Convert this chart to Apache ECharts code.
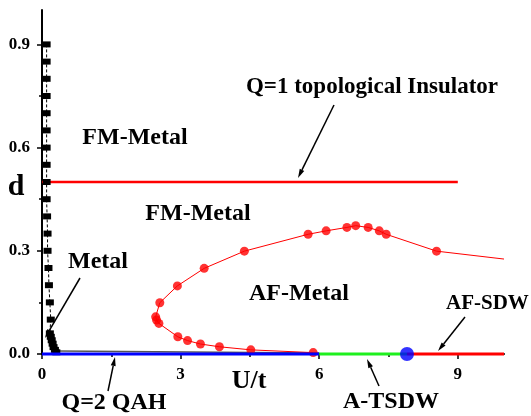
<!DOCTYPE html>
<html>
<head>
<meta charset="utf-8">
<script src="https://cdn.jsdelivr.net/npm/echarts@6/dist/echarts.min.js"></script>
<style>
  html, body { margin: 0; padding: 0; background: #fff; }
  #chart { width: 531px; height: 416px; }
</style>
</head>
<body>
<div id="chart"></div>
<script>
// Phase diagram in the (U/t, d) plane

// FM-Metal / Metal boundary near U = 0 (black squares)
const fmBoundary = [
  [0.10, 0.90], [0.10, 0.85], [0.10, 0.80], [0.10, 0.75], [0.10, 0.70],
  [0.10, 0.65], [0.10, 0.60], [0.10, 0.55], [0.10, 0.50], [0.10, 0.45],
  [0.11, 0.40], [0.12, 0.35], [0.12, 0.30], [0.14, 0.25], [0.15, 0.20],
  [0.17, 0.15], [0.19, 0.10], [0.17, 0.06], [0.19, 0.05], [0.21, 0.04],
  [0.23, 0.03], [0.25, 0.02], [0.28, 0.012], [0.31, 0.005]
];

// thin Metal edge running along d ~ 0
const metalEdge = [[0.33, 0.009], [6.0, 0.003]];

// AF-Metal boundary (red circles), followed by the unmarked tail of the curve
const afBoundaryDots = [
  [5.87, 0.004], [4.52, 0.012], [3.84, 0.021], [3.43, 0.029], [3.15, 0.039],
  [2.94, 0.050], [2.53, 0.089], [2.48, 0.099], [2.46, 0.108], [2.55, 0.149],
  [2.93, 0.198], [3.51, 0.249], [4.38, 0.299], [5.76, 0.348], [6.15, 0.358],
  [6.60, 0.368], [6.79, 0.373], [7.06, 0.368], [7.30, 0.358], [7.45, 0.348],
  [8.54, 0.299]
];
const afBoundaryTail = [10.0, 0.276];

// Q=1 topological insulator line at d = 0.5
const topoLine = [[0, 0.5], [9.0, 0.5]];

// d = 0 segments: Q=2 QAH, A-TSDW, AF-SDW and the transition point between them
const qahLine = [[0, 0], [6.0, 0]];
const tsdwLine = [[6.0, 0], [7.9, 0]];
const sdwLine = [[7.9, 0], [10.0, 0]];
const criticalPoint = [[7.9, 0]];

// axis ticks
const xTicks = [0, 3, 6, 9];
const xMinorTicks = [1.5, 4.5, 7.5];
const yTicks = [0, 0.3, 0.6, 0.9];
const yMinorTicks = [0.15, 0.45, 0.75];

const SERIF = '"Liberation Serif", "Times New Roman", serif';
const RED = '#ff0000';

const chart = echarts.init(document.getElementById('chart'), null, { renderer: 'canvas' });

function arrow(x1, y1, x2, y2) {
  const dx = x2 - x1, dy = y2 - y1;
  const len = Math.hypot(dx, dy);
  const ux = dx / len, uy = dy / len;
  const L = 9, W = 5;
  const bx = x2 - ux * L, by = y2 - uy * L;
  const nx = -uy * W / 2, ny = ux * W / 2;
  return [
    { type: 'line', shape: { x1: x1, y1: y1, x2: bx, y2: by },
      style: { stroke: '#000', lineWidth: 1.5 }, z: 100 },
    { type: 'polygon', shape: { points: [[x2, y2], [bx + nx, by + ny], [bx - nx, by - ny]] },
      style: { fill: '#000' }, z: 100 }
  ];
}

function label(text, x, y, size, align) {
  return {
    type: 'text', x: x, y: y, z: 100,
    style: {
      text: text, fill: '#000',
      font: 'bold ' + size + 'px ' + SERIF,
      align: align || 'center', verticalAlign: 'middle'
    }
  };
}

const axisFont = { fontFamily: SERIF, fontWeight: 'bold', fontSize: 17, color: '#000' };

const option = {
  backgroundColor: '#fff',
  animation: false,
  grid: { left: 42, right: 27, top: 10, bottom: 62 },
  xAxis: [
    {
      type: 'value', min: 0, max: 10, interval: 3,
      axisLine: { onZero: false, lineStyle: { color: '#000', width: 2 } },
      axisTick: { customValues: xTicks, length: 5, lineStyle: { color: '#000', width: 1.5 } },
      axisLabel: Object.assign({ customValues: xTicks, margin: 12, formatter: v => String(v) }, axisFont),
      splitLine: { show: false }
    },
    {
      type: 'value', min: 0, max: 10, position: 'bottom',
      axisLine: { show: false },
      axisTick: { customValues: xMinorTicks, length: 3, lineStyle: { color: '#000', width: 1.5 } },
      axisLabel: { show: false },
      splitLine: { show: false }
    }
  ],
  yAxis: [
    {
      type: 'value', min: 0, max: 1, interval: 0.3,
      axisLine: { onZero: false, lineStyle: { color: '#000', width: 2 } },
      axisTick: { customValues: yTicks, length: 5, lineStyle: { color: '#000', width: 1.5 } },
      axisLabel: Object.assign({ customValues: yTicks, margin: 12, formatter: v => v.toFixed(1) }, axisFont),
      splitLine: { show: false }
    },
    {
      type: 'value', min: 0, max: 1, position: 'left',
      axisLine: { show: false },
      axisTick: { customValues: yMinorTicks, length: 3, lineStyle: { color: '#000', width: 1.5 } },
      axisLabel: { show: false },
      splitLine: { show: false }
    }
  ],
  series: [
    {
      name: 'FM boundary', type: 'line', data: fmBoundary, clip: false, z: 3,
      symbol: 'rect', symbolSize: [8, 6],
      itemStyle: { color: '#000' },
      lineStyle: { color: '#000', width: 1, type: [3, 2] }
    },
    {
      name: 'Metal edge', type: 'line', data: metalEdge, clip: false, z: 2,
      symbol: 'none', lineStyle: { color: '#555', width: 1.5 }
    },
    {
      name: 'AF boundary', type: 'line', data: afBoundaryDots.concat([afBoundaryTail]),
      clip: false, z: 2, symbol: 'none', lineStyle: { color: RED, width: 1 }
    },
    {
      name: 'AF points', type: 'scatter', data: afBoundaryDots, clip: false, z: 2,
      symbol: 'circle', symbolSize: 9, itemStyle: { color: RED }
    },
    {
      name: 'Q=1', type: 'line', data: topoLine, clip: false, z: 2,
      symbol: 'none', lineStyle: { color: RED, width: 2.5 }
    },
    {
      name: 'Q=2 QAH', type: 'line', data: qahLine, clip: false, z: 4,
      symbol: 'none', lineStyle: { color: '#0000ff', width: 3 }
    },
    {
      name: 'A-TSDW', type: 'line', data: tsdwLine, clip: false, z: 4,
      symbol: 'none', lineStyle: { color: '#1ef01e', width: 3 }
    },
    {
      name: 'AF-SDW', type: 'line', data: sdwLine, clip: false, z: 4,
      symbol: 'none', lineStyle: { color: RED, width: 3 }
    },
    {
      name: 'transition', type: 'scatter', data: criticalPoint, clip: false, z: 5,
      symbol: 'circle', symbolSize: 14, itemStyle: { color: '#0000ff' }
    }
  ],
  graphic: [
    label('d', 16, 187, 30),
    label('U/t', 249, 381, 26),
    label('FM-Metal', 135, 138, 24),
    label('FM-Metal', 198, 214, 24),
    label('Metal', 98, 262, 24),
    label('AF-Metal', 299, 294, 24),
    label('AF-SDW', 446, 304, 21, 'left'),
    label('Q=1 topological Insulator', 372, 87, 23),
    label('Q=2 QAH', 114, 403, 24),
    label('A-TSDW', 391, 402, 24)
  ].concat(
    arrow(334, 105, 298, 178),
    arrow(80, 278, 45, 338),
    arrow(108, 391, 115, 357),
    arrow(379, 386, 367, 359),
    arrow(465, 317, 438, 351)
  )
};

chart.setOption(option);
</script>
</body>
</html>
